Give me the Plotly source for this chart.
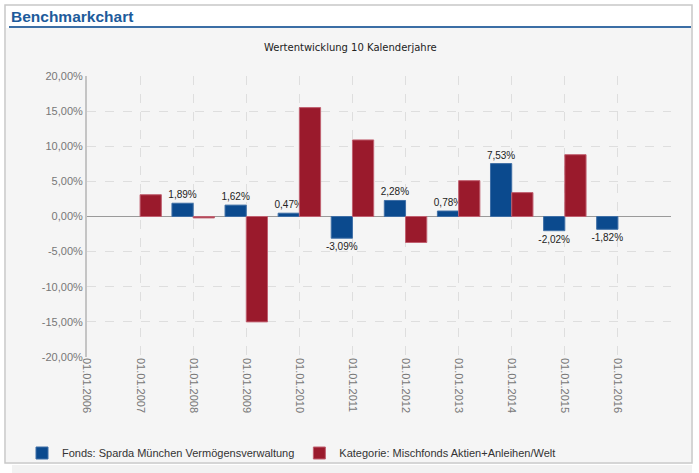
import plotly.graph_objects as go

# ---- data ----
years = [2007, 2008, 2009, 2010, 2011, 2012, 2013, 2014, 2015, 2016]
fonds = [None, 1.89, 1.62, 0.47, -3.09, 2.28, 0.78, 7.53, -2.02, -1.82]
kategorie = [3.1, -0.2, -15.0, 15.5, 10.9, -3.7, 5.1, 3.4, 8.8, None]
tick_years = [2006, 2007, 2008, 2009, 2010, 2011, 2012, 2013, 2014, 2015, 2016]
tick_labels = ["01.01.%d" % y for y in tick_years]
y_ticks = [20, 15, 10, 5, 0, -5, -10, -15, -20]
y_labels = ["%.2f%%" % v for v in y_ticks]
y_labels = [s.replace(".", ",") for s in y_labels]
name_fonds = "Fonds: Sparda München Vermögensverwaltung"
name_kat = "Kategorie: Mischfonds Aktien+Anleihen/Welt"

BLUE = "#0b4a8e"
RED = "#9a1a2c"
ARIAL = "Liberation Sans, Arial, sans-serif"

W, H = 699, 473
L, R, T, B = 87, 671, 76, 357


def px(x):
    return (x - L) / (R - L)


def py(y):
    return (B - y) / (B - T)


fonds_text = [("" if v is None else ("%.2f%%" % v).replace(".", ",")) for v in fonds]

fig = go.Figure()
fig.add_trace(go.Bar(
    x=years, y=fonds, name=name_fonds, marker=dict(color=BLUE, line=dict(color="#3f6fa6", width=1)),
    text=fonds_text, textposition="outside", constraintext="none", cliponaxis=False,
    textfont=dict(family=ARIAL, size=10, color="#222"), hoverinfo="skip"))
fig.add_trace(go.Bar(
    x=years, y=kategorie, name=name_kat, marker=dict(color=RED, line=dict(color="#c06070", width=1)),
    hoverinfo="skip"))

shapes = [
    dict(type="rect", xref="paper", yref="paper", x0=px(5), x1=px(692), y0=py(5), y1=py(463),
         fillcolor="white", line=dict(color="#c8c8c8", width=1.5), layer="below"),
    dict(type="rect", xref="paper", yref="paper", x0=px(6), x1=px(691), y0=py(28), y1=py(462),
         fillcolor="#f5f5f5", line=dict(width=0), layer="below"),
    dict(type="rect", xref="paper", yref="paper", x0=px(12), x1=px(692), y0=py(465), y1=py(473),
         fillcolor="#f2f2f2", line=dict(width=0), layer="below"),
    dict(type="line", xref="paper", yref="paper", x0=px(9), x1=px(691), y0=py(27), y1=py(27),
         line=dict(color="#3b6ea5", width=2), layer="below"),
]

annotations = [
    dict(text="<b>Benchmarkchart</b>", xref="paper", yref="paper", x=px(9), y=py(16),
         xanchor="left", yanchor="middle", showarrow=False,
         font=dict(family=ARIAL, size=15.5, color="#1d5b9b")),
    dict(text="Wertentwicklung 10 Kalenderjahre", xref="paper", yref="paper", x=px(350), y=py(47),
         xanchor="center", yanchor="middle", showarrow=False,
         font=dict(family="DejaVu Sans, Verdana, sans-serif", size=10, color="#222")),
]

fig.update_layout(
    width=W, height=H, autosize=False,
    margin=dict(l=L, r=W - R, t=T, b=H - B, pad=0, autoexpand=False),
    paper_bgcolor="white", plot_bgcolor="rgba(0,0,0,0)",
    barmode="group", bargap=0.2, bargroupgap=0.0,
    shapes=shapes, annotations=annotations,
    showlegend=True,
    legend=dict(orientation="h", x=px(22), y=py(467.5), xanchor="left", yanchor="bottom",
                font=dict(family=ARIAL, size=11, color="#333"), bgcolor="rgba(0,0,0,0)",
                itemclick=False, itemdoubleclick=False, tracegroupgap=0),
    xaxis=dict(range=[2006, 2017], tickmode="array", tickvals=tick_years, ticktext=tick_labels,
               tickangle=90, showgrid=True, gridcolor="#dedede", griddash="dash", gridwidth=1,
               zeroline=False, showline=False, ticks="",
               tickfont=dict(family=ARIAL, size=11, color="#777")),
    yaxis=dict(range=[-20, 20], tickmode="array", tickvals=y_ticks, ticktext=y_labels,
               showgrid=True, gridcolor="#dedede", griddash="dash", gridwidth=1,
               zeroline=True, zerolinecolor="#9a9a9a", zerolinewidth=1,
               showline=True, linecolor="#c4c4c4", linewidth=2, ticks="",
               tickfont=dict(family=ARIAL, size=11, color="#777")),
)

fig.write_html("out.html", config={"displayModeBar": False},
               post_script="document.body.style.margin='0';")
